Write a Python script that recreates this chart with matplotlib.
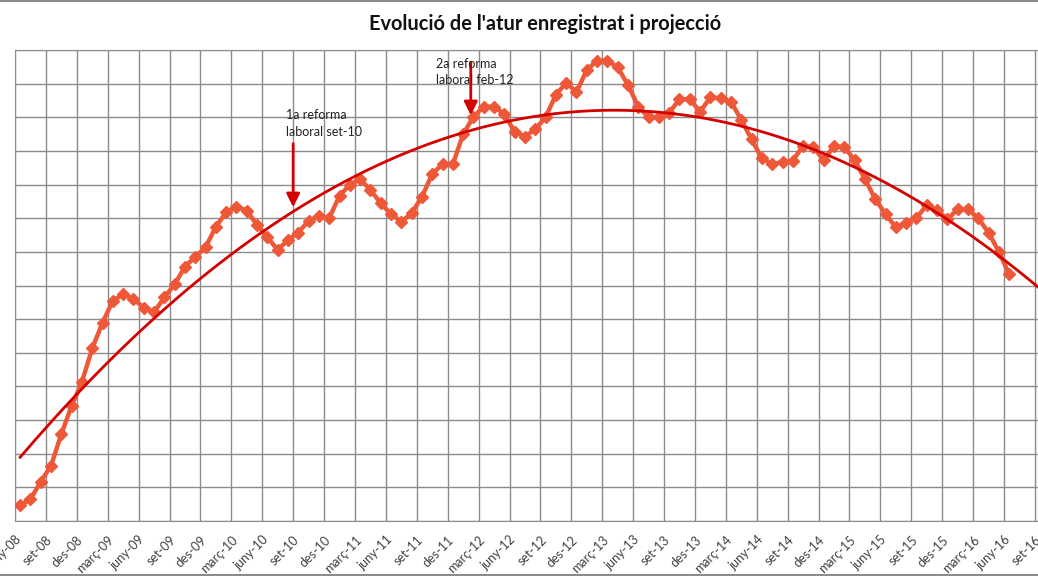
import numpy as np
import matplotlib
matplotlib.use("Agg")
import matplotlib.pyplot as plt
import matplotlib.transforms as mtrans
from matplotlib.lines import Line2D

# atur registrat (milers), juny-08 .. juny-16, mensual
atur = [2395, 2429, 2534, 2629, 2817, 2985, 3128, 3327, 3479, 3610,
        3648, 3620, 3568, 3541, 3630, 3707, 3812, 3871, 3927, 4050,
        4135, 4169, 4145, 4060, 3987, 3911, 3971, 4014, 4085, 4113,
        4100, 4234, 4298, 4333, 4268, 4189, 4125, 4079, 4129, 4228,
        4363, 4422, 4422, 4599, 4704, 4763, 4763, 4720, 4614, 4585,
        4629, 4700, 4833, 4906, 4849, 4981, 5037, 5037, 4997, 4892,
        4763, 4700, 4700, 4727, 4807, 4807, 4733, 4819, 4813, 4793,
        4684, 4569, 4456, 4421, 4434, 4442, 4531, 4522, 4446, 4529,
        4522, 4446, 4333, 4214, 4125, 4046, 4073, 4100, 4179, 4149,
        4094, 4153, 4153, 4100, 4014, 3901, 3768]

mesos = ['juny', 'set', 'des', 'març']
etiquetes = []
for k in range(34):
    m = 6 + 3 * k
    any_ = 2008 + (m - 1) // 12
    etiquetes.append(mesos[k % 4] + '-' + str(any_)[2:])

reformes = ["1a reforma\nlaboral set-10", "2a reforma\nlaboral feb-12"]

plt.rcParams['font.family'] = ['Lato', 'DejaVu Sans']

fig = plt.figure(figsize=(10.38, 5.76), dpi=100)
ax = fig.add_axes([15 / 1038, 55 / 576, 1 - 15 / 1038, 471 / 576])

x = np.arange(len(atur)) + 0.5
ax.plot(x, atur, color='#ee5838', lw=3.2, marker='D', ms=6.5, zorder=3)

# tendencia polinomica (projeccio)
coef = np.polyfit(x, atur, 2)
xt = np.linspace(x[0], 103, 300)
ax.plot(xt, np.polyval(coef, xt), color='#d40000', lw=2, zorder=4)

ax.set_xlim(0, 99.3)
ax.set_ylim(2300, 5100)
ax.set_xticks(np.arange(0, 100, 3))
ax.set_xticklabels(etiquetes, rotation=45, ha='right', rotation_mode='anchor',
                   fontsize=9, color='#404040')
off = mtrans.ScaledTranslation(5 / 100, 0, fig.dpi_scale_trans)
for lab in ax.get_xticklabels():
    lab.set_transform(lab.get_transform() + off)
ax.set_yticks(np.arange(2300, 5101, 200))
ax.set_yticklabels([])
ax.tick_params(length=0, pad=9)
ax.grid(True, color='#8c8c8c', lw=1)
ax.set_axisbelow(True)
for s in ax.spines.values():
    s.set_color('#8c8c8c')

# fletxes de les reformes
fletxa = dict(arrowstyle='-|>,head_width=0.4,head_length=0.8', color='#d40000', lw=2)
ax.annotate('', xy=(27.0, 4149), xytext=(27.0, 4560), arrowprops=fletxa)
ax.text(26.3, 4663, reformes[0], fontsize=9, color='#222222', ha='left', va='center',
        linespacing=1.45)
ax.annotate('', xy=(44.24, 4696), xytext=(44.24, 5045), arrowprops=fletxa)
ax.text(40.85, 4969, reformes[1], fontsize=9, color='#222222', ha='left', va='center',
        linespacing=1.45)

fig.text(545 / 1038, 1 - 24 / 576, "Evolució de l'atur enregistrat i projecció",
         ha='center', va='center', fontsize=14.4, fontweight='bold', color='#111111')

fig.add_artist(Line2D([0, 1], [0.999, 0.999], color='#8c8c8c', lw=1.5))
fig.add_artist(Line2D([0, 1], [0.002, 0.002], color='#8c8c8c', lw=1.5))

fig.savefig('out.png', dpi=100)
